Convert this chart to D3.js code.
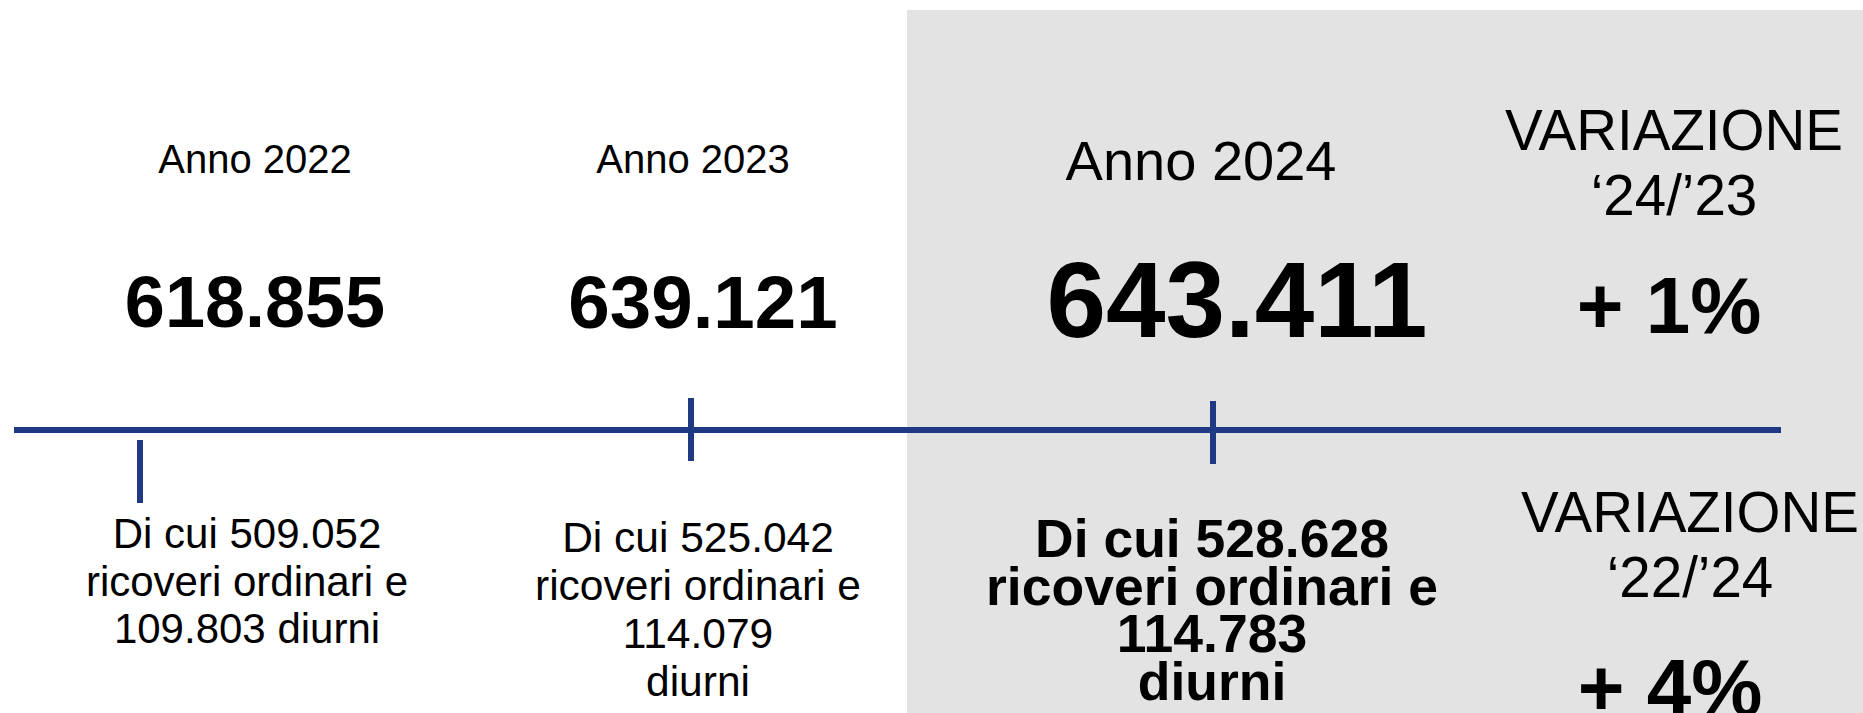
<!DOCTYPE html>
<html>
<head>
<meta charset="UTF-8">
<title>Ricoveri 2022-2024</title>
<style>
  body { margin: 0; background: #fff; }
  svg text { font-family: "Liberation Sans", Arial, sans-serif; fill: #000; }
</style>
</head>
<body>
<svg></svg>
<script src="https://d3js.org/d3.v7.min.js"></script>
<script>

// dati
var anni = ["2022", "2023", "2024"];
var totali = [618855, 639121, 643411];
var ordinari = [509052, 525042, 528628];
var diurni = [109803, 114079, 114783];
var periodiVariazione = ["‘24/’23", "‘22/’24"];
var valoriVariazione = [1, 4];

var width = 1863, height = 713;

var it = d3.formatLocale({ decimal: ",", thousands: ".", grouping: [3], currency: ["€", ""] });
var fmt = it.format(",d");

var svg = d3.select("svg")
  .attr("width", width)
  .attr("height", height);

// scale ordinali per le posizioni delle colonne
var xLabel = d3.scaleOrdinal().domain(anni).range([255, 693, 1201]);
var xValue = d3.scaleOrdinal().domain(anni).range([255, 703, 1237]);
var xTick = d3.scaleOrdinal().domain(anni).range([140, 691, 1213]);
var xNote = d3.scaleOrdinal().domain(anni).range([247, 698, 1212]);

// sfondo grigio per l'ultimo anno
svg.append("rect")
  .attr("x", 907)
  .attr("y", 10)
  .attr("width", width - 907)
  .attr("height", height - 10)
  .attr("fill", "#e3e3e3");

// linea del tempo
var timeline = svg.append("g").attr("class", "timeline");

timeline.append("line")
  .attr("x1", 14).attr("x2", 1781)
  .attr("y1", 430).attr("y2", 430)
  .attr("stroke", "#1f3a83")
  .attr("stroke-width", 6);

var tickY = { "2022": [440, 503], "2023": [398, 461], "2024": [401, 464] };

timeline.selectAll("line.tick")
  .data(anni)
  .enter().append("line")
  .attr("class", "tick")
  .attr("x1", function (d) { return xTick(d); })
  .attr("x2", function (d) { return xTick(d); })
  .attr("y1", function (d) { return tickY[d][0]; })
  .attr("y2", function (d) { return tickY[d][1]; })
  .attr("stroke", "#1f3a83")
  .attr("stroke-width", 6);

// etichette "Anno"
svg.selectAll("text.anno")
  .data(anni)
  .enter().append("text")
  .attr("class", "anno")
  .attr("x", function (d) { return xLabel(d); })
  .attr("y", function (d, i) { return i == 2 ? 180 : 173; })
  .attr("text-anchor", "middle")
  .style("font-size", function (d, i) { return (i == 2 ? 56 : 40) + "px"; })
  .text(function (d) { return "Anno " + d; });

// totali
svg.selectAll("text.totale")
  .data(anni)
  .enter().append("text")
  .attr("class", "totale")
  .attr("x", function (d) { return xValue(d); })
  .attr("y", function (d, i) { return [327, 328, 337][i]; })
  .attr("text-anchor", "middle")
  .style("font-weight", "bold")
  .style("font-size", function (d, i) { return [72, 74.5, 107][i] + "px"; })
  .text(function (d, i) { return fmt(totali[i]); });

// dettaglio ordinari / diurni
anni.forEach(function (a, i) {
  var righe = ["Di cui " + fmt(ordinari[i]), "ricoveri ordinari e"];
  if (i == 0) righe.push(fmt(diurni[i]) + " diurni");
  else righe.push(fmt(diurni[i]), "diurni");

  var y0 = [548, 552, 557][i];
  var lh = [47.5, 48, 47.5][i];

  svg.append("text")
    .attr("text-anchor", "middle")
    .style("font-size", [42, 42.5, 53.5][i] + "px")
    .style("font-weight", i == 2 ? "bold" : "normal")
    .selectAll("tspan")
    .data(righe)
    .enter().append("tspan")
    .attr("x", xNote(a))
    .attr("y", function (d, k) { return y0 + k * lh; })
    .text(function (d) { return d; });
});

// variazioni percentuali
var varPos = [
  { x: 1674, xv: 1669, y: 150 },
  { x: 1690, xv: 1670, y: 532 }
];

periodiVariazione.forEach(function (p, i) {
  var pos = varPos[i];
  var g = svg.append("g").attr("class", "variazione");

  g.append("text")
    .attr("text-anchor", "middle")
    .style("font-size", "56.5px")
    .selectAll("tspan")
    .data(["VARIAZIONE", p])
    .enter().append("tspan")
    .attr("x", pos.x)
    .attr("y", function (d, k) { return pos.y + k * 65; })
    .text(function (d) { return d; });

  g.append("text")
    .attr("x", pos.xv)
    .attr("y", pos.y + 183)
    .attr("text-anchor", "middle")
    .style("font-weight", "bold")
    .style("font-size", "80px")
    .text("+ " + valoriVariazione[i] + "%");
});

</script>
</body>
</html>
